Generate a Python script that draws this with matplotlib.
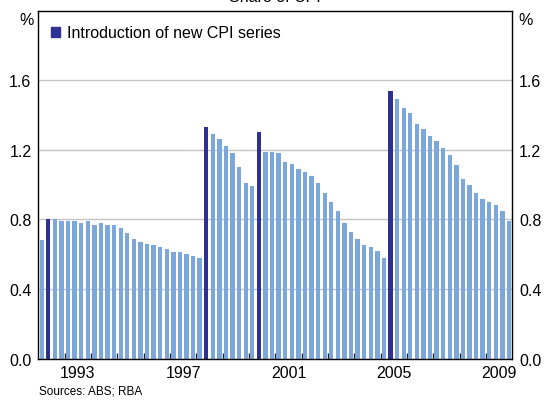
import numpy as np
import matplotlib as mpl
import matplotlib.pyplot as plt
from matplotlib.patches import Patch
mpl.rcParams['font.family'] = ['Liberation Sans', 'DejaVu Sans']

# quarterly share of CPI (%), 1992 Q1 - 2009 Q4
start_year = 1992
share = [0.68, 0.80, 0.80, 0.79, 0.79, 0.79, 0.78, 0.79,
         0.77, 0.78, 0.77, 0.77, 0.75, 0.72, 0.69, 0.67,
         0.66, 0.65, 0.64, 0.63, 0.61, 0.61, 0.60, 0.59,
         0.58, 1.33, 1.29, 1.26, 1.22, 1.18, 1.10, 1.01,
         0.99, 1.30, 1.19, 1.19, 1.18, 1.13, 1.12, 1.09,
         1.07, 1.05, 1.01, 0.95, 0.90, 0.85, 0.78, 0.73,
         0.69, 0.65, 0.64, 0.62, 0.58, 1.54, 1.49, 1.44,
         1.41, 1.35, 1.32, 1.28, 1.25, 1.21, 1.17, 1.11,
         1.03, 1.00, 0.95, 0.92, 0.90, 0.88, 0.85, 0.79]
# quarters where a new CPI series starts
new_series = ['1992Q2', '1998Q2', '2000Q2', '2005Q2']
year_labels = [1993, 1997, 2001, 2005, 2009]

light = '#7BA7DA'
dark = '#2E3192'

n = len(share)
x = start_year + (np.arange(n) + 0.5) / 4
qlab = ['%dQ%d' % (start_year + i // 4, i % 4 + 1) for i in range(n)]
cols = [dark if q in new_series else light for q in qlab]

fig = plt.figure(figsize=(5.44, 4.02), dpi=100)
ax = fig.add_axes([0.0706, 0.1057, 0.8711, 0.8652])
ax.bar(x, share, width=0.165, color=cols, zorder=2)

ax.set_xlim(1992, 2010)
ax.set_ylim(0, 2.0)
ax.set_yticks([0, 0.4, 0.8, 1.2, 1.6])
ax.set_yticklabels(['0.0', '0.4', '0.8', '1.2', '1.6'])
ax.grid(axis='y', color='#C4C4C4', lw=1, zorder=0)
ax.tick_params(axis='y', length=0, labelsize=11.5, pad=5,
               labelleft=True, labelright=True)

ax.set_xticks(np.arange(1993, 2010))
ax.set_xticklabels([])
ax.set_xticks([y + 0.5 for y in year_labels], minor=True)
ax.set_xticklabels([str(y) for y in year_labels], minor=True)
ax.tick_params(axis='x', which='major', direction='in', length=4,
               width=1, color='#222222')
ax.tick_params(axis='x', which='minor', length=0, labelsize=11.5, pad=5)
for s in ax.spines.values():
    s.set_linewidth(1)
    s.set_zorder(3)

ax.legend(handles=[Patch(color=dark)], labels=['Introduction of new CPI series'],
          loc='upper left', bbox_to_anchor=(0.003, 0.99), frameon=False,
          handlelength=0.55, handleheight=0.55, handletextpad=0.45,
          fontsize=11.5, borderaxespad=0.3)

fig.text(0.048, 0.95, '%', ha='center', va='center', fontsize=11.5)
fig.text(0.966, 0.95, '%', ha='center', va='center', fontsize=11.5)
fig.text(0.506, 0.987, 'Share of CPI', ha='center', va='bottom', fontsize=11.5)
fig.text(0.072, 0.025, 'Sources: ABS; RBA', ha='left', va='center', fontsize=8.5)

plt.savefig('out.png', dpi=100)
